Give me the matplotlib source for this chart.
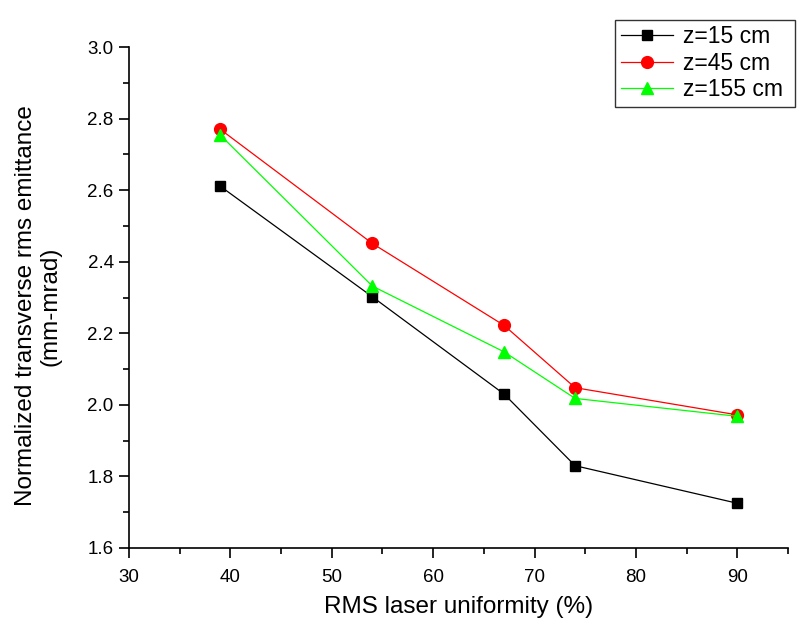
import matplotlib
matplotlib.use("Agg")
import matplotlib.pyplot as plt
from matplotlib.ticker import MultipleLocator

plt.rcParams['font.family'] = ['Liberation Sans', 'DejaVu Sans']

x = [39, 54, 67, 74, 90]
z15 = [2.611, 2.302, 2.030, 1.830, 1.725]
z45 = [2.770, 2.451, 2.222, 2.048, 1.972]
z155 = [2.754, 2.332, 2.148, 2.018, 1.968]
labels = ["z=15 cm", "z=45 cm", "z=155 cm"]
yticks = [1.6, 1.8, 2.0, 2.2, 2.4, 2.6, 2.8, 3.0]

fig = plt.figure(figsize=(7.97, 6.25), dpi=100)
ax = fig.add_axes([129/797, 1-548/625, (788-129)/797, (548-47)/625])

ax.plot(x, z15, color='black', marker='s', markersize=7.5, lw=0.9, label=labels[0])
ax.plot(x, z45, color='red', marker='o', markersize=8.5, lw=0.9, label=labels[1])
ax.plot(x, z155, color='#00ff00', marker='^', markersize=9, lw=0.9, label=labels[2])

ax.set_xlim(30, 95)
ax.set_ylim(1.6, 3.0)
ax.xaxis.set_major_locator(MultipleLocator(10))
ax.xaxis.set_minor_locator(MultipleLocator(5))
ax.yaxis.set_minor_locator(MultipleLocator(0.1))
ax.set_yticks(yticks)
ax.set_yticklabels([f"{v:.1f}" for v in yticks])
ax.spines['top'].set_visible(False)
ax.spines['right'].set_visible(False)
for s in ['left', 'bottom']:
    ax.spines[s].set_linewidth(1.2)
ax.tick_params(which='major', direction='out', length=7, width=1.2, labelsize=13.5)
ax.tick_params(axis='x', which='major', pad=8)
ax.tick_params(axis='y', which='major', pad=4)
ax.tick_params(which='minor', direction='out', length=4, width=1.2)

ax.set_xlabel("RMS laser uniformity (%)", fontsize=17.5)
ax.xaxis.set_label_coords(0.5, -0.096)
ax.set_ylabel("Normalized transverse rms emittance\n(mm-mrad)", fontsize=17.5, linespacing=1.15)
ax.yaxis.set_label_coords(-0.102, 0.483)

leg = fig.legend(loc='lower left', bbox_to_anchor=(615/797, 1-107/625, (795-615)/797, (107-5)/625),
                 mode='expand', fontsize=16.5, frameon=True, fancybox=False, edgecolor='black',
                 handlelength=2.3, handletextpad=0.4, borderaxespad=0, labelspacing=0.15,
                 borderpad=0.25)
leg.get_frame().set_linewidth(1.0)

fig.savefig("out.png", dpi=100)
